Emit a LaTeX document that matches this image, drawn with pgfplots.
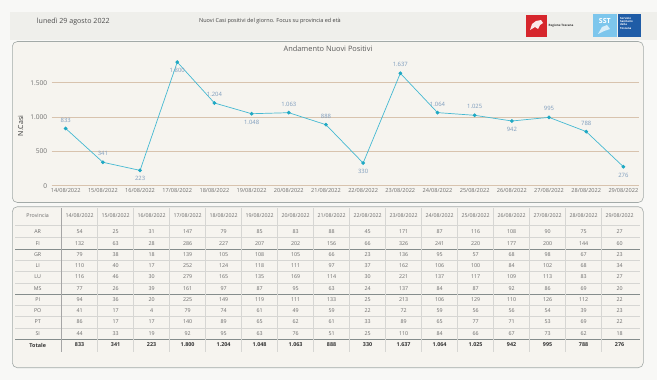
\documentclass[border=0pt]{standalone}
\usepackage{fontspec}
\setmainfont{Open Sans}
\usepackage{pgfplots}
\usepackage{pgfplotstable}
\pgfplotsset{compat=1.18}
\definecolor{pagebg}{HTML}{F8F8F6}
\definecolor{headbg}{HTML}{EFEFEB}
\definecolor{panelbg}{HTML}{F6F4EF}
\definecolor{panelborder}{HTML}{A3AAA8}
\definecolor{gridcol}{HTML}{D8C3AE}
\definecolor{linecol}{HTML}{45B9D2}
\definecolor{markcol}{HTML}{1FA9C4}
\definecolor{labelcol}{HTML}{7C9BBC}
\definecolor{tickcol}{HTML}{6E6E6E}
\definecolor{tabtext}{HTML}{6A6A6A}
\definecolor{tabdark}{HTML}{333333}
\definecolor{tabline}{HTML}{D6D6D3}
\definecolor{tabline2}{HTML}{858D8C}
\definecolor{rtred}{HTML}{D6262C}
\definecolor{sstlight}{HTML}{7DC6EC}
\definecolor{sstdark}{HTML}{1F5CA6}

\pgfplotstableread{
x y pos
0 833 1
1 341 1
2 223 -1
3 1800 -1
4 1204 1
5 1048 -1
6 1063 1
7 888 1
8 330 -1
9 1637 1
10 1064 1
11 1025 1
12 942 -1
13 995 1
14 788 1
15 276 -1
}\datatable

\begin{document}
\begin{tikzpicture}[x=1pt,y=-1pt]
% background
\fill[pagebg] (0,0) rectangle (657,380);
\fill[headbg] (10,12) rectangle (657,40);
% header
\node[font=\fontsize{7.1}{8}\selectfont, text=black!70] at (73.3,21.7) {lunedì 29 agosto 2022};
\node[font=\fontsize{5.5}{6}\selectfont, text=black!75] at (270,21) {Nuovi Casi positivi del giorno. Focus su provincia ed età};
% logos
\fill[rtred] (525.7,15) rectangle (546.7,36.7);
\fill[white!90!rtred] (530,30) -- (532,24) -- (536,21) -- (541,20) -- (543,23) -- (540,25) -- (538,29) -- (535,27) -- cycle;
\node[font=\fontsize{3}{3.5}\selectfont\bfseries, text=black!80, anchor=west, inner sep=0pt] at (548.5,26) {Regione Toscana};
\fill[sstlight] (593,14) rectangle (616.7,37);
\node[font=\fontsize{7}{7}\selectfont\bfseries, text=white, inner sep=0pt] at (604.8,20.5) {SST};
\fill[white!70!sstlight] (598,34) -- (602,27) -- (607,25) -- (610,29) -- (604,31) -- cycle;
\fill[sstdark] (618,14) rectangle (641,37);
\node[font=\fontsize{2.8}{3.3}\selectfont\bfseries, text=white, anchor=north west, inner sep=0pt, align=left] at (620,17) {Servizio\\Sanitario\\della\\Toscana};
% panels
\draw[panelborder, fill=panelbg, rounded corners=5pt, line width=0.6pt] (12.3,41.5) rectangle (643.3,202.5);
\draw[panelborder, fill=panelbg, rounded corners=5pt, line width=0.6pt] (12.3,206.7) rectangle (643.3,367.7);
% chart title and y label
\node[font=\fontsize{7.4}{8}\selectfont, text=black!65] at (328,48.3) {Andamento Nuovi Positivi};
\node[font=\fontsize{7}{8}\selectfont, text=black!80, rotate=90] at (20.7,126) {N.Casi};

\begin{axis}[
  at={(51.7pt,-185.7pt)}, anchor=south west,
  scale only axis, width=587.3pt, height=130.5pt,
  xmin=-0.377, xmax=15.42, ymin=0, ymax=1900,
  axis line style={draw=none},
  major tick length=0pt,
  ytick={0,500,1000,1500},
  ymajorgrids, grid style={gridcol, line width=0.6pt},
  xtick={0,...,15},
  xticklabels={14/08/2022,15/08/2022,16/08/2022,17/08/2022,18/08/2022,19/08/2022,20/08/2022,21/08/2022,22/08/2022,23/08/2022,24/08/2022,25/08/2022,26/08/2022,27/08/2022,28/08/2022,29/08/2022},
  x tick label style={font=\fontsize{5.6}{6}\selectfont, text=tickcol, yshift=1pt},
  y tick label style={font=\fontsize{6.6}{7}\selectfont, text=tickcol, xshift=-1pt},
  /pgf/number format/.cd, 1000 sep={.}, assume math mode=true,
  /pgfplots/.cd,
  clip=false,
]
\addplot[linecol, line width=0.7pt, mark=*, mark size=1.5pt,
  mark options={draw=markcol, fill=markcol},
  nodes near coords,
  point meta=explicit,
  visualization depends on={\thisrow{pos}\as\pos},
  every node near coord/.append style={font=\fontsize{5.9}{6}\selectfont, text=labelcol, anchor=center, yshift=\pos*8.5pt}
] table[x=x, y=y, meta=y] {\datatable};
\end{axis}

% table grid
\foreach \yy in {225,237.6,260.2,271.5,282.8,305.4,316.7,328}
  \draw[tabline, line width=0.5pt] (15,\yy) -- (640,\yy);
\foreach \yy in {248.9,294.1,339.3}
  \draw[tabline2, line width=0.6pt] (15,\yy) -- (640,\yy);
\foreach \k in {1,...,15}
  \draw[tabline, line width=0.5pt] (61.7+36*\k,208) -- (61.7+36*\k,351.5);
\draw[black!35, line width=0.5pt] (61.7,208) -- (61.7,351.5);
% table text
\begin{scope}[every node/.style={font=\fontsize{5.3}{6}\selectfont, text=tabtext, inner sep=0pt}]
\node at (37.7,215.7) {Provincia};
\foreach \d [count=\c] in {14,15,16,17,18,19,20,21,22,23,24,25,26,27,28,29}
  \node at (43.6+36*\c,215.7) {\d/08/2022};
\foreach \name/\vals [count=\r] in {
  AR/{54,25,31,147,79,85,83,88,45,171,87,116,108,90,75,27},
  FI/{132,63,28,286,227,207,202,156,66,326,241,220,177,200,144,60},
  GR/{79,38,18,139,105,108,105,66,23,136,95,57,68,98,67,23},
  LI/{110,40,17,252,124,118,111,97,37,162,106,100,84,102,68,34},
  LU/{116,46,30,279,165,135,169,114,30,221,137,117,109,113,83,27},
  MS/{77,26,39,161,97,87,95,63,24,137,84,87,92,86,69,20},
  PI/{94,36,20,225,149,119,111,133,25,213,106,129,110,126,112,22},
  PO/{41,17,4,79,74,61,49,59,22,72,59,56,56,54,39,23},
  PT/{86,17,17,140,89,65,62,61,33,89,65,77,71,53,69,22},
  SI/{44,33,19,92,95,63,76,51,25,110,84,66,67,73,62,18}}
{
  \node at (37.7,220.7+11.26*\r) {\name};
  \foreach \v [count=\c] in \vals
    \node at (43.6+36*\c,220.7+11.26*\r) {\v};
}
\end{scope}
\begin{scope}[every node/.style={font=\fontsize{5.4}{6}\selectfont\bfseries, text=tabdark, inner sep=0pt}]
\node at (37.7,345) {Totale};
\foreach \v [count=\c] in {833,341,223,1.800,1.204,1.048,1.063,888,330,1.637,1.064,1.025,942,995,788,276}
  \node at (43.6+36*\c,345) {\v};
\end{scope}
\end{tikzpicture}
\end{document}
